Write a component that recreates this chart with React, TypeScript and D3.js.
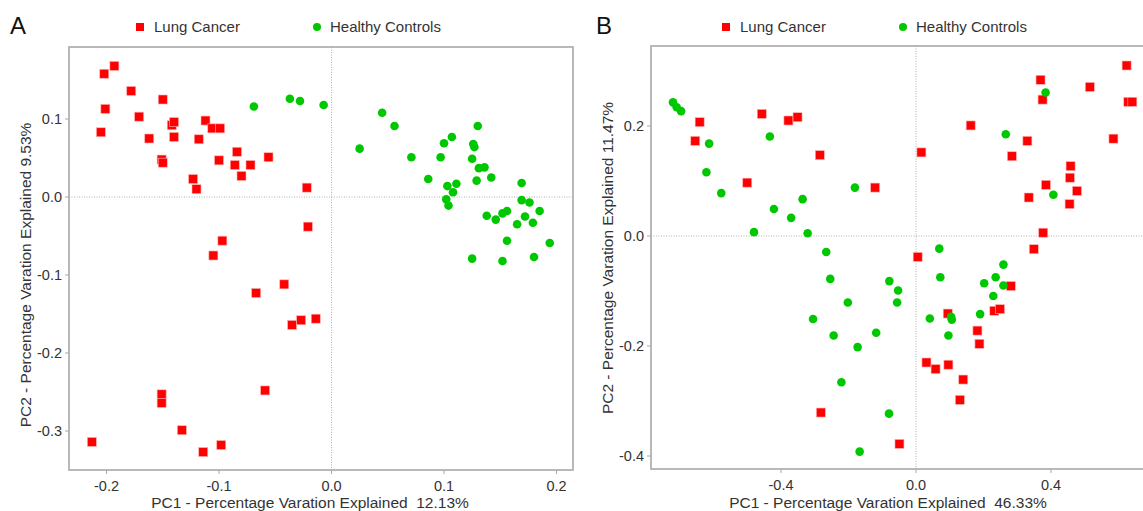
import { useEffect, useRef } from 'react'
import * as d3 from 'd3'

// PC1, PC2 scores
const cancerA: [number, number][] = [
  [-0.193, 0.168], [-0.202, 0.158], [-0.178, 0.136], [-0.15, 0.125], [-0.201, 0.113],
  [-0.171, 0.103], [-0.205, 0.083], [-0.142, 0.092], [-0.14, 0.096], [-0.112, 0.098],
  [-0.106, 0.088], [-0.099, 0.088], [-0.162, 0.075], [-0.14, 0.077], [-0.118, 0.074],
  [-0.151, 0.048], [-0.15, 0.044], [-0.084, 0.058], [-0.1, 0.047], [-0.086, 0.041],
  [-0.072, 0.041], [-0.056, 0.051], [-0.08, 0.027], [-0.123, 0.023], [-0.12, 0.01],
  [-0.022, 0.012], [-0.021, -0.038], [-0.097, -0.056], [-0.105, -0.075], [-0.067, -0.123],
  [-0.042, -0.112], [-0.035, -0.164], [-0.027, -0.158], [-0.014, -0.156], [-0.059, -0.248],
  [-0.151, -0.253], [-0.151, -0.264], [-0.133, -0.299], [-0.213, -0.314], [-0.114, -0.327],
  [-0.098, -0.318],
]

const controlsA: [number, number][] = [
  [-0.069, 0.116], [-0.037, 0.126], [-0.028, 0.123], [-0.007, 0.118], [0.045, 0.108],
  [0.056, 0.091], [0.025, 0.062], [0.071, 0.051], [0.097, 0.051], [0.1, 0.069],
  [0.107, 0.077], [0.13, 0.091], [0.126, 0.068], [0.127, 0.064], [0.125, 0.049],
  [0.131, 0.037], [0.136, 0.038], [0.142, 0.025], [0.129, 0.021], [0.086, 0.023],
  [0.103, 0.014], [0.111, 0.017], [0.108, 0.006], [0.102, -0.003], [0.104, -0.011],
  [0.169, 0.018], [0.169, -0.004], [0.176, -0.007], [0.185, -0.018], [0.138, -0.024],
  [0.146, -0.029], [0.152, -0.021], [0.156, -0.018], [0.172, -0.025], [0.179, -0.033],
  [0.165, -0.035], [0.156, -0.056], [0.194, -0.059], [0.125, -0.079], [0.152, -0.082],
  [0.18, -0.077],
]

const cancerB: [number, number][] = [
  [-0.641, 0.207], [-0.654, 0.173], [-0.457, 0.222], [-0.378, 0.21], [-0.351, 0.216],
  [-0.285, 0.147], [-0.5, 0.097], [-0.121, 0.088], [0.624, 0.31], [0.515, 0.271],
  [0.369, 0.284], [0.375, 0.248], [0.629, 0.244], [0.641, 0.244], [0.162, 0.201],
  [0.33, 0.173], [0.585, 0.177], [0.016, 0.152], [0.284, 0.145], [0.458, 0.127],
  [0.456, 0.106], [0.385, 0.093], [0.477, 0.082], [0.334, 0.07], [0.455, 0.058],
  [0.377, 0.006], [0.349, -0.024], [0.005, -0.038], [-0.282, -0.321], [0.281, -0.091],
  [0.094, -0.141], [0.232, -0.136], [0.249, -0.133], [0.182, -0.172], [0.188, -0.196],
  [0.031, -0.23], [0.058, -0.242], [0.096, -0.234], [0.14, -0.261], [0.13, -0.298],
  [-0.049, -0.378],
]

const controlsB: [number, number][] = [
  [-0.72, 0.243], [-0.709, 0.234], [-0.696, 0.227], [-0.613, 0.168], [-0.621, 0.116],
  [-0.577, 0.078], [-0.433, 0.181], [-0.421, 0.049], [-0.37, 0.033], [-0.336, 0.067],
  [-0.48, 0.007], [-0.321, 0.005], [-0.266, -0.029], [-0.181, 0.088], [-0.254, -0.078],
  [-0.202, -0.121], [-0.305, -0.151], [-0.244, -0.181], [-0.173, -0.202], [-0.118, -0.176],
  [-0.221, -0.266], [-0.079, -0.082], [-0.08, -0.323], [-0.167, -0.392], [-0.053, -0.099],
  [-0.056, -0.121], [0.072, -0.075], [0.041, -0.15], [0.104, -0.147], [0.106, -0.152],
  [0.096, -0.181], [0.259, -0.052], [0.236, -0.075], [0.202, -0.086], [0.259, -0.09],
  [0.229, -0.109], [0.19, -0.142], [0.069, -0.023], [0.384, 0.261], [0.266, 0.185],
  [0.407, 0.075],
]

const xTicksA = [-0.2, -0.1, 0, 0.1, 0.2]
const yTicksA = [0.1, 0, -0.1, -0.2, -0.3]
const xTicksB = [-0.4, 0, 0.4]
const yTicksB = [0.2, 0, -0.2, -0.4]

const legendLabels = ['Lung Cancer', 'Healthy Controls']

const RED = '#ff0000'
const GREEN = '#00c800'
const FRAME = '#a8a8a8'
const FONT = '"Liberation Sans", Arial, sans-serif'

function Panel({ letter, cancer, controls, xTicks, yTicks, xDomain, xRange, yDomain, yRange, frame, xTitle, yTitle, ox, xTitleX, yTitleY, yTitleX }) {
  const gRef = useRef(null)

  useEffect(() => {
    const g = d3.select(gRef.current)
    g.selectAll('*').remove()

    const x = d3.scaleLinear().domain(xDomain).range(xRange)
    const y = d3.scaleLinear().domain(yDomain).range(yRange)
    const [fl, ft, fr, fb] = frame

    // zero reference lines
    g.append('line')
      .attr('x1', x(0)).attr('x2', x(0)).attr('y1', ft).attr('y2', fb)
      .attr('stroke', '#b0b0b0').attr('stroke-width', 1).attr('stroke-dasharray', '1,1.5')
    g.append('line')
      .attr('x1', fl).attr('x2', fr).attr('y1', y(0)).attr('y2', y(0))
      .attr('stroke', '#b0b0b0').attr('stroke-width', 1).attr('stroke-dasharray', '1,1.5')

    // frame
    g.append('rect')
      .attr('x', fl).attr('y', ft).attr('width', fr - fl).attr('height', fb - ft)
      .attr('fill', 'none').attr('stroke', FRAME).attr('stroke-width', 1.6)

    // x ticks
    const xt = g.append('g').selectAll('g').data(xTicks).join('g')
    xt.append('line')
      .attr('x1', (d) => x(d)).attr('x2', (d) => x(d)).attr('y1', fb).attr('y2', fb + 4)
      .attr('stroke', FRAME)
    xt.append('text')
      .attr('x', (d) => x(d)).attr('y', fb + 21)
      .attr('text-anchor', 'middle')
      .style('font-size', '14.5px').style('fill', '#333').style('font-family', FONT)
      .text((d) => d.toFixed(1))

    // y ticks
    const yt = g.append('g').selectAll('g').data(yTicks).join('g')
    yt.append('line')
      .attr('x1', fl - 4).attr('x2', fl).attr('y1', (d) => y(d)).attr('y2', (d) => y(d))
      .attr('stroke', FRAME)
    yt.append('text')
      .attr('x', fl - 7).attr('y', (d) => y(d)).attr('dy', '0.35em')
      .attr('text-anchor', 'end')
      .style('font-size', '14.5px').style('fill', '#333').style('font-family', FONT)
      .text((d) => d.toFixed(1))

    // points
    const s = 9
    g.append('g').selectAll('rect').data(cancer).join('rect')
      .attr('x', (d) => x(d[0]) - s / 2).attr('y', (d) => y(d[1]) - s / 2)
      .attr('width', s).attr('height', s)
      .attr('fill', RED).attr('stroke', '#ffb0b0').attr('stroke-width', 0.6)
    g.append('g').selectAll('circle').data(controls).join('circle')
      .attr('cx', (d) => x(d[0])).attr('cy', (d) => y(d[1])).attr('r', 4.3)
      .attr('fill', GREEN)

    // titles
    g.append('text')
      .attr('x', xTitleX).attr('y', 508).attr('text-anchor', 'middle')
      .style('font-size', '15.5px').style('fill', '#333').style('font-family', FONT)
      .style('white-space', 'pre')
      .text(xTitle)
    g.append('text')
      .attr('transform', `translate(${yTitleX},${yTitleY}) rotate(-90)`)
      .attr('text-anchor', 'middle')
      .style('font-size', '15.5px').style('fill', '#333').style('font-family', FONT)
      .text(yTitle)

    // panel letter
    g.append('text')
      .attr('x', ox + 10).attr('y', 34)
      .style('font-size', '24px').style('fill', '#111').style('font-family', FONT)
      .text(letter)

    // legend
    g.append('rect')
      .attr('x', ox + 136).attr('y', 23).attr('width', 8).attr('height', 8).attr('fill', RED)
    g.append('text')
      .attr('x', ox + 154).attr('y', 32)
      .style('font-size', '15px').style('fill', '#333').style('font-family', FONT)
      .text(legendLabels[0])
    g.append('circle')
      .attr('cx', ox + 317).attr('cy', 27).attr('r', 4).attr('fill', GREEN)
    g.append('text')
      .attr('x', ox + 330).attr('y', 32)
      .style('font-size', '15px').style('fill', '#333').style('font-family', FONT)
      .text(legendLabels[1])
  }, [cancer, controls])

  return <g ref={gRef} />
}

export default function App() {
  return (
    <div style={{ position: 'absolute', left: 0, top: 0 }}>
      <svg width={1143} height={511} style={{ display: 'block', background: '#fff' }}>
        <Panel
          letter="A"
          cancer={cancerA}
          controls={controlsA}
          xTicks={xTicksA}
          yTicks={yTicksA}
          xDomain={[-0.2, 0.2]}
          xRange={[106.5, 556.5]}
          yDomain={[0.1, -0.3]}
          yRange={[119, 431]}
          frame={[69, 47, 573, 470]}
          xTitle={'PC1 - Percentage Varation Explained  12.13%'}
          yTitle="PC2 - Percentage Varation Explained 9.53%"
          ox={0}
          xTitleX={310}
          yTitleX={31}
          yTitleY={275}
        />
        <Panel
          letter="B"
          cancer={cancerB}
          controls={controlsB}
          xTicks={xTicksB}
          yTicks={yTicksB}
          xDomain={[-0.4, 0.4]}
          xRange={[781, 1051]}
          yDomain={[0.2, -0.4]}
          yRange={[126, 456]}
          frame={[651, 46, 1146, 469]}
          xTitle={'PC1 - Percentage Varation Explained  46.33%'}
          yTitle="PC2 - Percentage Varation Explained 11.47%"
          ox={586}
          xTitleX={888}
          yTitleX={613}
          yTitleY={258}
        />
      </svg>
    </div>
  )
}
